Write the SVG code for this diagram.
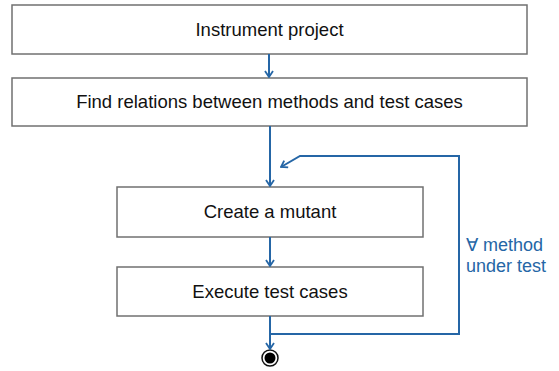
<svg xmlns="http://www.w3.org/2000/svg" width="559" height="371" viewBox="0 0 559 371">
<style>
.box{fill:#fff;stroke:#707070;stroke-width:1.5}
.lbl{font-family:"Liberation Sans",Arial,sans-serif;font-size:18.5px;fill:#111;text-anchor:middle}
.con{fill:none;stroke:#2566a6;stroke-width:2}
.note{font-family:"Liberation Sans",Arial,sans-serif;font-size:18px;fill:#2566a6}
</style>
<defs>
<marker id="arr" markerWidth="10" markerHeight="10" refX="9" refY="5" orient="auto" markerUnits="userSpaceOnUse">
<path d="M3,1 L9,5 L3,9" fill="none" stroke="#2566a6" stroke-width="1.8"/>
</marker>
</defs>
<g id="n1"><rect class="box" x="12" y="5" width="515" height="49"/><text class="lbl" x="269.5" y="36">Instrument project</text></g>
<g id="n2"><rect class="box" x="12" y="78" width="515" height="48"/><text class="lbl" x="269.5" y="108">Find relations between methods and test cases</text></g>
<g id="n3"><rect class="box" x="117" y="187" width="306" height="50"/><text class="lbl" x="270" y="218">Create a mutant</text></g>
<g id="n4"><rect class="box" x="117" y="267" width="306" height="49"/><text class="lbl" x="270" y="298">Execute test cases</text></g>
<g id="end"><circle cx="270" cy="358" r="8" fill="#fff" stroke="#111" stroke-width="1.5"/><circle cx="270" cy="358" r="5.5" fill="#000"/></g>
<g id="connectors">
<path class="con" d="M269,54 V77" marker-end="url(#arr)"/>
<path class="con" d="M270,126 V186" marker-end="url(#arr)"/>
<path class="con" d="M270,237 V266" marker-end="url(#arr)"/>
<path class="con" d="M270,316 V349" marker-end="url(#arr)"/>
<path class="con" d="M270,334 H459 V156 H300 L281,167" marker-end="url(#arr)"/>
<text class="note" x="466" y="251">∀ method</text>
<text class="note" x="466" y="272">under test</text>
</g>
</svg>
